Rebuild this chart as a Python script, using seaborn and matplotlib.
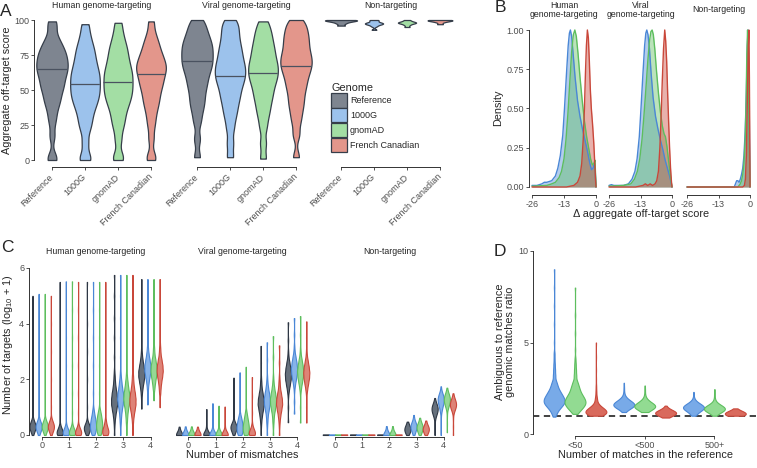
import numpy as np
import pandas as pd
import matplotlib
matplotlib.use("Agg")
import matplotlib.pyplot as plt
from matplotlib.patches import Patch
import seaborn as sns

sns.set_style("ticks")
plt.rcParams["font.family"] = ["Liberation Sans", "DejaVu Sans"]
plt.rcParams["axes.unicode_minus"] = False
plt.rcParams["mathtext.default"] = "regular"

genomes = ["Reference", "1000G", "gnomAD", "French Canadian"]
facet_names = ["Human genome-targeting", "Viral genome-targeting", "Non-targeting"]

# ---------- A: aggregate off-target score (samples)
a_human = [
    [0, 2, 17, 27, 33, 38, 41.5, 44, 47, 50, 52, 53.5, 56, 58, 60, 62, 63, 65, 66.5, 68, 69.5, 71, 73, 74.5, 76, 78, 80, 82, 85, 88, 95, 99],
    [0, 2, 12, 21, 26, 30, 34, 37, 40, 42, 44.5, 46.5, 48.5, 50.5, 52.5, 54.5, 56.5, 58.5, 60.5, 62.5, 64.5, 67, 69.5, 72, 75, 78, 81, 85, 90, 97],
    [0, 3, 14, 22, 27, 31, 35, 38, 41, 43, 45.5, 47.5, 49.5, 51.5, 53.5, 55.5, 57.5, 59.5, 61.5, 63.5, 65.5, 68, 70.5, 73, 76, 79, 82, 86, 91, 98],
    [0, 3, 15, 24, 30, 35, 39, 42, 45, 48, 50.5, 53, 55, 57, 59, 61, 63, 64.5, 66, 67.5, 69, 71, 73, 75, 77, 80, 83, 86, 91, 99],
]
a_viral = [
    [2, 15, 27, 34, 39, 43, 47, 51, 54, 57, 60, 62.5, 65, 67, 69, 71, 73, 75, 77, 79, 81, 83, 85, 87.5, 90, 93, 96.5, 100],
    [2, 12, 22, 29, 34, 38, 42, 45, 48, 51, 53.5, 56, 58, 60, 62, 64, 66, 68, 70, 72.5, 75, 77.5, 80, 83, 86, 89.5, 93, 96.5, 100],
    [1, 12, 23, 30, 35, 39, 43, 46, 49, 52, 54.5, 57, 59, 61, 63, 65, 67, 69, 71, 73.5, 76, 78.5, 81, 84, 87, 90.5, 94, 99],
    [2, 18, 27, 33, 38, 42, 46, 50, 53, 56, 59, 61.5, 64, 66, 68, 70, 72, 74, 76, 78.5, 81, 83.5, 86, 88.5, 91, 94, 97, 100],
]
a_nontarget = [
    [96, 97.5, 98.5, 99, 99.5, 99.8, 100, 100],
    [93, 95.5, 96.5, 97, 97.5, 97.5, 98, 98.5, 99.5, 100],
    [95, 96.5, 97.5, 98, 98, 98.5, 99, 100],
    [97, 98.5, 99.2, 99.6, 99.8, 100, 100],
]
a_medians = [[65, 54, 56, 61.5], [70.5, 60, 62, 67], None]

# ---------- B: scaled density of the change in score
b_human_x = {
    "1000G": [-26, -24, -22, -21, -20, -18, -16.5, -15.5, -14.5, -13.5, -12.8, -12.0, -11.3, -10.8, -10.4, -9.9, -9.3, -8.5, -7.5, -6.5, -5.5, -4.5, -3.5, -2.5, -1.8, -1.2, -0.7, -0.3, 0],
    "gnomAD": [-26, -20, -18, -16.5, -15, -14, -13, -12.2, -11.4, -10.6, -9.9, -9.2, -8.6, -8.0, -7.3, -6.5, -5.6, -4.7, -3.8, -3.0, -2.2, -1.5, -0.9, -0.4, 0],
    "French Canadian": [-26, -12, -9, -7.5, -6.5, -5.8, -5.2, -4.7, -4.3, -3.9, -3.5, -3.1, -2.7, -2.3, -1.9, -1.4, -0.9, -0.5, -0.2, 0],
}
b_human_y = {
    "1000G": [0.01, 0.01, 0.02, 0.03, 0.03, 0.04, 0.07, 0.12, 0.2, 0.33, 0.5, 0.72, 0.9, 0.98, 1.0, 0.96, 0.85, 0.7, 0.55, 0.45, 0.37, 0.3, 0.23, 0.15, 0.11, 0.12, 0.15, 0.1, 0],
    "gnomAD": [0.005, 0.01, 0.02, 0.03, 0.06, 0.1, 0.18, 0.3, 0.47, 0.68, 0.86, 0.97, 1.0, 0.96, 0.85, 0.7, 0.55, 0.42, 0.32, 0.25, 0.18, 0.14, 0.15, 0.17, 0],
    "French Canadian": [0, 0, 0.01, 0.03, 0.07, 0.15, 0.3, 0.5, 0.72, 0.9, 1.0, 0.95, 0.8, 0.62, 0.5, 0.4, 0.28, 0.15, 0.05, 0],
}
b_viral_x = {
    "1000G": [-26, -25, -24, -22, -20, -18, -16.5, -15.3, -14.4, -13.5, -12.8, -12.0, -11.3, -10.8, -10.4, -9.9, -9.3, -8.6, -7.8, -6.8, -5.8, -4.8, -3.8, -2.8, -1.9, -1.0, -0.4, 0],
    "gnomAD": [-26, -20, -17, -15.5, -14.3, -13.3, -12.4, -11.6, -10.8, -10.0, -9.3, -8.7, -8.2, -7.7, -7.1, -6.4, -5.6, -4.8, -4.0, -3.3, -2.7, -2.1, -1.5, -0.9, -0.4, 0],
    "French Canadian": [-26, -15, -12, -11, -10, -9, -8, -7, -6.3, -5.6, -5.0, -4.5, -4.0, -3.5, -3.0, -2.6, -2.2, -1.8, -1.4, -1.0, -0.6, -0.2, 0],
}
b_viral_y = {
    "1000G": [0.01, 0.015, 0.01, 0.01, 0.01, 0.02, 0.05, 0.1, 0.18, 0.32, 0.5, 0.72, 0.9, 0.98, 1.0, 0.97, 0.88, 0.72, 0.57, 0.45, 0.37, 0.3, 0.24, 0.17, 0.12, 0.07, 0.03, 0],
    "gnomAD": [0.005, 0.01, 0.02, 0.05, 0.1, 0.18, 0.3, 0.45, 0.62, 0.8, 0.93, 0.99, 1.0, 0.97, 0.88, 0.74, 0.6, 0.48, 0.39, 0.34, 0.32, 0.26, 0.18, 0.1, 0.04, 0],
    "French Canadian": [0, 0, 0.01, 0.02, 0.01, 0.02, 0.01, 0.02, 0.04, 0.1, 0.25, 0.45, 0.68, 0.88, 1.0, 0.93, 0.8, 0.6, 0.42, 0.25, 0.12, 0.03, 0],
}
b_nontarget_x = {
    "1000G": [-26, -6.5, -6, -5.5, -5, -4.5, -4, -3.5, -3, -2.5, -2, -1.5, -1.1, -0.8, -0.5, -0.2, 0],
    "gnomAD": [-26, -5, -4.5, -4, -3.5, -3, -2.5, -2, -1.6, -1.3, -1.0, -0.7, -0.4, -0.1, 0],
    "French Canadian": [-26, -3, -2.3, -1.9, -1.5, -1.1, -0.7, -0.45, -0.25, -0.1, 0],
}
b_nontarget_y = {
    "1000G": [0, 0, 0.02, 0.04, 0.04, 0.03, 0.05, 0.08, 0.12, 0.2, 0.35, 0.6, 0.9, 1.0, 0.8, 0.3, 0],
    "gnomAD": [0, 0, 0.01, 0.02, 0.04, 0.08, 0.15, 0.3, 0.55, 0.85, 1.0, 0.8, 0.4, 0.1, 0],
    "French Canadian": [0, 0, 0.01, 0.05, 0.2, 0.55, 0.9, 1.0, 0.7, 0.3, 0],
}

# ---------- C: number of targets by mismatches, each violin as (values, counts)
c_human = {
    0: [([0, 0.1, 0.2, 0.3, 0.4, 0.5, 0.6, 1.0, 2.0, 3.0, 4.0, 5.0], [2, 5, 9, 12, 9, 5, 2, 1, 1, 1, 1, 1]),
        ([0, 0.1, 0.2, 0.3, 0.4, 0.5, 0.6, 1.0, 2.0, 3.0, 4.0, 5.07], [2, 5, 9, 12, 9, 5, 2, 1, 1, 1, 1, 1]),
        ([0, 0.1, 0.2, 0.3, 0.4, 0.5, 0.6, 1.0, 2.0, 3.0, 4.0, 5.07], [2, 5, 9, 12, 9, 5, 2, 1, 1, 1, 1, 1]),
        ([0, 0.1, 0.2, 0.3, 0.4, 0.5, 0.6, 1.0, 2.0, 3.0, 4.0, 5.0], [2, 5, 9, 12, 9, 5, 2, 1, 1, 1, 1, 1])],
    1: [([0, 0.1, 0.2, 0.3, 0.4, 0.8, 1.5, 2.5, 3.5, 4.5, 5.5], [10, 12, 7, 3, 1, 1, 1, 1, 1, 1, 1]),
        ([0, 0.1, 0.2, 0.3, 0.4, 0.8, 1.5, 2.5, 3.5, 4.5, 5.52], [10, 12, 7, 3, 1, 1, 1, 1, 1, 1, 1]),
        ([0, 0.1, 0.2, 0.3, 0.4, 0.8, 1.5, 2.5, 3.5, 4.5, 5.52], [10, 12, 7, 3, 1, 1, 1, 1, 1, 1, 1]),
        ([0, 0.1, 0.2, 0.3, 0.4, 0.8, 1.5, 2.5, 3.5, 4.5, 5.5], [10, 12, 7, 3, 1, 1, 1, 1, 1, 1, 1])],
    2: [([0, 0.1, 0.2, 0.3, 0.4, 0.5, 1.0, 2.0, 3.0, 4.0, 5.5], [3, 6, 10, 10, 5, 2, 1, 1, 1, 1, 1]),
        ([0, 0.1, 0.2, 0.3, 0.4, 0.5, 0.6, 0.7, 0.8, 0.9, 1.0, 1.5, 2.5, 3.5, 4.5, 5.5], [4, 6, 8, 9, 8, 7, 6, 4, 3, 2, 1, 1, 1, 1, 1, 1]),
        ([0, 0.1, 0.2, 0.3, 0.4, 0.5, 0.6, 0.7, 0.8, 0.9, 1.0, 1.5, 2.5, 3.5, 4.5, 5.5], [4, 6, 7, 8, 8, 7, 6, 5, 4, 2, 1, 1, 1, 1, 1, 1]),
        ([0, 0.1, 0.2, 0.3, 0.4, 0.5, 0.6, 1.0, 2.0, 3.0, 4.0, 5.5], [8, 10, 8, 5, 3, 2, 1, 1, 1, 1, 1, 1])],
    3: [([0, 0.3, 0.5, 0.7, 0.9, 1.1, 1.3, 1.5, 1.7, 1.9, 2.1, 2.3, 2.8, 3.5, 4.2, 5.0, 5.75], [1, 1, 2, 4, 7, 10, 10, 8, 5, 3, 2, 1, 1, 1, 1, 1, 1]),
        ([0, 0.3, 0.5, 0.7, 0.9, 1.1, 1.3, 1.5, 1.7, 1.9, 2.1, 2.3, 2.8, 3.5, 4.2, 5.0, 5.75], [1, 1, 2, 3, 5, 8, 10, 9, 6, 4, 2, 1, 1, 1, 1, 1, 1]),
        ([0, 0.3, 0.5, 0.7, 0.9, 1.1, 1.3, 1.5, 1.7, 1.9, 2.1, 2.3, 2.8, 3.5, 4.2, 5.0, 5.75], [1, 1, 2, 3, 5, 8, 10, 9, 6, 4, 2, 1, 1, 1, 1, 1, 1]),
        ([0, 0.3, 0.5, 0.7, 0.9, 1.1, 1.3, 1.5, 1.7, 1.9, 2.1, 2.3, 2.8, 3.5, 4.2, 5.0, 5.75], [1, 1, 2, 4, 7, 10, 10, 8, 5, 3, 2, 1, 1, 1, 1, 1, 1])],
    4: [([0.95, 1.3, 1.5, 1.7, 1.9, 2.1, 2.3, 2.5, 2.7, 2.9, 3.1, 3.4, 4.0, 4.8, 5.6], [1, 1, 2, 4, 7, 10, 10, 7, 4, 2, 1, 1, 1, 1, 1]),
        ([1.1, 1.5, 1.7, 1.9, 2.1, 2.3, 2.5, 2.7, 2.9, 3.1, 3.3, 3.6, 4.2, 4.9, 5.6], [1, 1, 2, 4, 7, 10, 10, 7, 4, 2, 1, 1, 1, 1, 1]),
        ([1.25, 1.5, 1.7, 1.9, 2.1, 2.3, 2.5, 2.7, 2.9, 3.1, 3.3, 3.6, 4.2, 4.9, 5.6], [1, 1, 3, 5, 8, 10, 9, 6, 3, 2, 1, 1, 1, 1, 1]),
        ([1.0, 1.5, 1.7, 1.9, 2.1, 2.3, 2.5, 2.7, 2.9, 3.1, 3.3, 3.6, 4.2, 4.9, 5.6], [1, 2, 3, 5, 8, 10, 9, 6, 3, 2, 1, 1, 1, 1, 1])],
}
c_viral = {
    0: [([0, 0.1, 0.2, 0.3], [12, 3, 1, 1]),
        ([0, 0.1, 0.2, 0.31], [12, 3, 1, 1]),
        ([0, 0.1, 0.2, 0.31], [12, 3, 1, 1]),
        ([0, 0.1, 0.2, 0.3], [12, 3, 1, 1])],
    1: [([0, 0.1, 0.2, 0.4, 0.7, 0.93], [12, 4, 1, 1, 1, 1]),
        ([0, 0.1, 0.2, 0.4, 0.7, 1.14], [12, 4, 1, 1, 1, 1]),
        ([0, 0.1, 0.2, 0.4, 0.7, 1.05], [12, 4, 1, 1, 1, 1]),
        ([0, 0.1, 0.2, 0.4, 0.7, 1.02], [12, 4, 1, 1, 1, 1])],
    2: [([0, 0.1, 0.2, 0.3, 0.4, 0.5, 0.9, 1.4, 2.06], [2, 4, 8, 10, 6, 2, 1, 1, 1]),
        ([0, 0.1, 0.2, 0.3, 0.4, 0.5, 0.6, 0.7, 0.8, 1.2, 1.7, 2.25], [5, 6, 7, 7, 6, 5, 4, 2, 1, 1, 1, 1]),
        ([0, 0.1, 0.2, 0.3, 0.4, 0.5, 0.6, 0.7, 0.8, 0.9, 1.3, 1.9, 2.45], [5, 6, 7, 7, 6, 5, 4, 3, 2, 1, 1, 1, 1]),
        ([0, 0.1, 0.2, 0.3, 0.4, 0.8, 1.4, 2.08], [10, 9, 5, 2, 1, 1, 1, 1])],
    3: [([0, 0.3, 0.5, 0.7, 0.9, 1.1, 1.3, 1.5, 1.7, 1.9, 2.1, 2.6, 3.2], [1, 1, 2, 4, 7, 10, 9, 6, 3, 2, 1, 1, 1]),
        ([0, 0.3, 0.5, 0.7, 0.9, 1.1, 1.3, 1.5, 1.7, 1.9, 2.1, 2.7, 3.33], [1, 1, 2, 3, 6, 9, 10, 7, 4, 2, 1, 1, 1]),
        ([0, 0.3, 0.5, 0.7, 0.9, 1.1, 1.3, 1.5, 1.7, 1.9, 2.1, 2.8, 3.55], [1, 1, 2, 3, 6, 9, 10, 7, 4, 2, 1, 1, 1]),
        ([0, 0.3, 0.5, 0.7, 0.9, 1.1, 1.3, 1.5, 1.7, 1.9, 2.1, 2.6, 3.22], [1, 1, 2, 4, 7, 10, 9, 6, 3, 2, 1, 1, 1])],
    4: [([0.46, 1.0, 1.4, 1.6, 1.8, 2.0, 2.2, 2.4, 2.6, 2.8, 3.0, 3.4, 4.05], [1, 1, 1, 3, 6, 9, 10, 8, 5, 2, 1, 1, 1]),
        ([0.77, 1.2, 1.6, 1.8, 2.0, 2.2, 2.4, 2.6, 2.8, 3.0, 3.2, 3.6, 4.2], [1, 1, 1, 3, 6, 9, 10, 8, 5, 2, 1, 1, 1]),
        ([0.45, 1.0, 1.5, 1.7, 1.9, 2.1, 2.3, 2.5, 2.7, 2.9, 3.1, 3.6, 4.27], [1, 1, 1, 3, 6, 9, 10, 8, 5, 2, 1, 1, 1]),
        ([0.45, 1.0, 1.45, 1.65, 1.85, 2.05, 2.25, 2.45, 2.65, 2.85, 3.05, 3.5, 4.08], [1, 1, 1, 3, 6, 9, 10, 8, 5, 2, 1, 1, 1])],
}
c_nontarget = {
    0: [([0, 0.02], [10, 1]), ([0, 0.02], [10, 1]), ([0, 0.02], [10, 1]), ([0, 0.02], [10, 1])],
    1: [([0, 0.02], [10, 1]), ([0, 0.02], [10, 1]), ([0, 0.02], [10, 1]), ([0, 0.02], [10, 1])],
    2: [([0, 0.02], [10, 1]),
        ([0, 0.1, 0.2, 0.32], [12, 2, 1, 1]),
        ([0, 0.1, 0.2, 0.32], [12, 2, 1, 1]),
        ([0, 0.02], [10, 1])],
    3: [([0, 0.1, 0.2, 0.3, 0.4, 0.48], [2, 5, 8, 5, 2, 1]),
        ([0, 0.1, 0.2, 0.3, 0.4, 0.5, 0.6, 0.72], [2, 3, 6, 8, 6, 3, 1, 1]),
        ([0, 0.1, 0.2, 0.3, 0.4, 0.5, 0.62], [2, 4, 7, 8, 5, 2, 1]),
        ([0, 0.1, 0.2, 0.3, 0.4, 0.52], [2, 5, 8, 6, 2, 1])],
    4: [([0, 0.2, 0.4, 0.6, 0.7, 0.8, 0.9, 1.0, 1.1, 1.2, 1.33], [1, 1, 1, 2, 4, 7, 9, 9, 6, 3, 1]),
        ([0, 0.3, 0.6, 0.8, 0.9, 1.0, 1.1, 1.2, 1.3, 1.4, 1.5, 1.6, 1.75], [1, 1, 1, 2, 3, 5, 7, 9, 10, 8, 5, 2, 1]),
        ([0.1, 0.4, 0.7, 0.9, 1.0, 1.1, 1.2, 1.3, 1.4, 1.5, 1.6, 1.7], [1, 1, 1, 2, 4, 7, 9, 10, 8, 5, 2, 1]),
        ([0, 0.3, 0.6, 0.8, 0.9, 1.0, 1.1, 1.2, 1.3, 1.4, 1.5], [1, 1, 1, 2, 5, 8, 10, 8, 5, 2, 1])],
}

# ---------- D: ambiguous / reference matches ratio (1000G, gnomAD, French Canadian)
d_bins = ["<50", "<500", "500+"]
d_samples = {
    "<50": [([0.95, 1.1, 1.3, 1.5, 1.7, 1.9, 2.1, 2.3, 2.5, 2.7, 2.9, 3.2, 3.5, 3.8, 4.1, 4.4, 5.0, 6.0, 7.0, 8.0, 9.0],
             [3, 6, 12, 21, 30, 30, 24, 18, 12, 9, 6, 5, 4, 3, 2, 2, 1, 1, 1, 1, 1]),
            ([1.1, 1.3, 1.5, 1.7, 1.9, 2.1, 2.3, 2.5, 2.7, 2.9, 3.2, 3.5, 3.8, 4.1, 4.6, 5.5, 6.5, 8.0],
             [6, 15, 24, 30, 27, 21, 15, 12, 9, 6, 5, 4, 3, 2, 1, 1, 1, 1]),
            ([1.0, 1.1, 1.2, 1.3, 1.4, 1.5, 1.6, 1.8, 2.0, 2.3, 2.6, 3.0, 3.5, 4.2, 5.0],
             [18, 27, 30, 27, 18, 12, 9, 6, 5, 3, 2, 1, 1, 1, 1])],
    "<500": [([1.2, 1.3, 1.4, 1.5, 1.6, 1.7, 1.8, 1.9, 2.0, 2.2, 2.5, 2.8], [3, 6, 15, 24, 30, 24, 15, 9, 6, 3, 2, 1]),
             ([1.2, 1.3, 1.4, 1.5, 1.6, 1.7, 1.8, 1.9, 2.1, 2.4, 2.65], [6, 12, 21, 30, 24, 15, 9, 6, 3, 2, 1]),
             ([0.9, 1.0, 1.1, 1.2, 1.3, 1.4, 1.55], [1, 9, 27, 24, 9, 3, 1])],
    "500+": [([1.0, 1.1, 1.2, 1.3, 1.4, 1.5, 1.6, 1.7, 1.8, 2.0, 2.3], [6, 6, 9, 18, 27, 27, 18, 9, 6, 2, 1]),
             ([1.0, 1.1, 1.2, 1.3, 1.4, 1.5, 1.6, 1.7, 1.9, 2.2, 2.45], [3, 6, 15, 27, 30, 21, 12, 6, 3, 2, 1]),
             ([1.0, 1.05, 1.1, 1.15, 1.2, 1.3, 1.4], [9, 18, 27, 21, 12, 6, 1])],
}

# ---------- colours
outline = "#363E4A"
a_fill = ["#7E8590", "#9CC2EC", "#A3DEA4", "#E3968B"]
line_cols = ["#2E3744", "#4A87D6", "#5DBE5E", "#C9473A"]
c_fill = ["#66707C", "#86B3EA", "#95D895", "#DE8377"]
d_fill = ["#78AAE8", "#92DB92", "#D96A5D"]
axis_col = "#333333"
tick_txt = "#4D4D4D"

W, H = 757, 468
fig = plt.figure(figsize=(W / 100, H / 100), dpi=100)


def add_ax(x0, y0, x1, y1):
    return fig.add_axes([x0 / W, 1 - y1 / H, (x1 - x0) / W, (y1 - y0) / H])


def label(x, y, s, **kw):
    kw.setdefault("ha", "center")
    kw.setdefault("va", "center")
    fig.text(x / W, 1 - y / H, s, **kw)


def fixed_bw(h):
    # absolute kernel width, whatever the spread of the samples
    return lambda kde: h / max(np.std(kde.dataset, ddof=1), 1e-6)


def style(ax, show_left):
    sns.despine(ax=ax, left=not show_left)
    for s in ("left", "bottom"):
        ax.spines[s].set_linewidth(0.7)
        ax.spines[s].set_color(axis_col)
    ax.tick_params(length=2.2, width=0.6, color=axis_col, labelsize=6.5,
                   labelcolor=tick_txt, pad=1.2)
    if not show_left:
        ax.tick_params(left=False, labelleft=False)
    ax.set_xlabel("")
    ax.set_ylabel("")


def recolor(ax, fills, lines):
    fills_rgb = np.array([matplotlib.colors.to_rgb(c) for c in fills])
    for coll in ax.collections:
        fc = coll.get_facecolor()
        if len(fc) == 0:
            continue
        idx = np.argmin(((fills_rgb - fc[0][:3]) ** 2).sum(axis=1))
        coll.set_edgecolor(lines[idx])


def long_form(table, levels, xname, yname):
    rows = []
    for key, groups in table.items():
        for g, (vals, counts) in zip(levels, groups):
            for v, c in zip(vals, counts):
                rows += [(key, g, v)] * c
    return pd.DataFrame(rows, columns=[xname, "genome", yname])


# ================= panel A
a_sets = [a_human, a_viral, a_nontarget]
a_widths = [[0.95, 0.9, 0.88, 0.9], [0.95, 0.92, 0.9, 0.95], [0.97, 0.55, 0.55, 0.75]]
a_tick0 = [52, 197, 341]
a_step = 33
for k in range(3):
    x0 = 34 if k == 0 else a_tick0[k] - 0.6 * a_step
    x1 = a_tick0[k] + 3.6 * a_step
    ax = add_ax(x0, 13, x1, 167)
    for i, g in enumerate(genomes):
        df = pd.DataFrame({"genome": g, "score": a_sets[k][i]})
        sns.violinplot(data=df, x="genome", y="score", order=genomes, color=a_fill[i],
                       linecolor=outline, linewidth=0.9, inner=None, cut=0,
                       width=a_widths[k][i], bw_method=fixed_bw(4.5 if k < 2 else 0.6),
                       gridsize=250, saturation=1, ax=ax)
        body = ax.collections[-1]
        if a_medians[k] is not None:
            med = ax.hlines(a_medians[k][i], i - 0.5, i + 0.5, color="#4A5260", lw=0.9)
            med.set_clip_path(body.get_paths()[0], body.get_transform())
    ax.set_xlim((x0 - a_tick0[k]) / a_step, 3.6)
    ax.set_ylim(-5, 105)
    ax.set_yticks([0, 25, 50, 75, 100])
    style(ax, k == 0)
    ax.spines["left"].set_bounds(0, 100)
    ax.spines["bottom"].set_bounds(0, 3)
    ax.set_xticks(range(4))
    ax.set_xticklabels(genomes, rotation=45, ha="right", va="center",
                       rotation_mode="anchor")
    ax.tick_params(axis="x", pad=4)
    label(a_tick0[k] + 1.5 * a_step, 5, facet_names[k], fontsize=6.3)

handles = [Patch(facecolor=c, edgecolor=outline, linewidth=0.9) for c in a_fill]
fig.legend(handles, genomes, title="Genome", loc="upper left",
           bbox_to_anchor=(331 / W, 1 - 83 / H), frameon=False, fontsize=6.5,
           title_fontsize=7.8, handlelength=1.8, handleheight=2.05,
           handletextpad=0.3, labelspacing=0.05, borderpad=0, borderaxespad=0,
           alignment="left")
label(7, 90, "Aggregate off-target score", rotation=90, fontsize=7.8)
label(6, 11, "A", fontsize=12.5)

# ================= panel B
b_x = [b_human_x, b_viral_x, b_nontarget_x]
b_y = [b_human_y, b_viral_y, b_nontarget_y]
b_p26 = [532, 609, 687]
b_p0 = [596, 672, 750]
b_titles = ["Human\ngenome-targeting", "Viral\ngenome-targeting", "Non-targeting"]
for k in range(3):
    s = (b_p0[k] - b_p26[k]) / 26
    ax = add_ax(b_p26[k] - 1.3 * s, 22.15, b_p0[k] + 1.3 * s, 194.85)
    for g, col in zip(genomes[1:], line_cols[1:]):
        xs, ys = b_x[k][g], b_y[k][g]
        ax.fill_between(xs, ys, color=col, alpha=0.42, lw=0)
        sns.lineplot(x=xs, y=ys, color=col, lw=1.0, sort=False, ax=ax)
    ax.set_xlim(-27.3, 1.3)
    ax.set_ylim(-0.05, 1.05)
    ax.set_xticks([-26, -13, 0])
    ax.set_xticklabels(["-26", "-13", "0"])
    ax.set_yticks([0, 0.25, 0.5, 0.75, 1.0])
    ax.set_yticklabels(["0.00", "0.25", "0.50", "0.75", "1.00"])
    style(ax, k == 0)
    ax.spines["left"].set_bounds(0, 1)
    ax.spines["bottom"].set_bounds(-26, 0)
    label((b_p26[k] + b_p0[k]) / 2, 10, b_titles[k], fontsize=6.3, linespacing=1.1)
label(498, 108, "Density", rotation=90, fontsize=7.8)
label(641, 214, "\u0394 aggregate off-target score", fontsize=7.8)
label(500, 8, "B", fontsize=12.5)

# ================= panel C
c_sets = [c_human, c_viral, c_nontarget]
c_tick0 = [41.7, 188.3, 335]
c_step = 27.2
c_unit = 27.83
for k in range(3):
    df = long_form(c_sets[k], genomes, "mm", "n")
    x0 = 29 if k == 0 else c_tick0[k] - 0.6 * c_step
    x1 = c_tick0[k] + 4.6 * c_step
    ax = add_ax(x0, 259.65, x1, 436.5)
    sns.violinplot(data=df, x="mm", y="n", hue="genome", hue_order=genomes,
                   palette=c_fill, density_norm="width", cut=0, inner=None,
                   width=0.9, gap=0, linewidth=0.8, bw_method=fixed_bw(0.1),
                   gridsize=400, saturation=1, legend=False, ax=ax)
    recolor(ax, c_fill, line_cols)
    ax.set_xlim((x0 - c_tick0[k]) / c_step, 4.6)
    ax.set_ylim(-1.5 / c_unit, 6.3)
    ax.set_yticks([0, 2, 4, 6])
    style(ax, k == 0)
    ax.spines["left"].set_bounds(0, 6)
    ax.spines["bottom"].set_bounds(0, 4)
    label(c_tick0[k] + 2 * c_step, 251, facet_names[k], fontsize=6.3)
label(8, 345, r"Number of targets ($\mathregular{log_{10}}$ + 1)", rotation=90, fontsize=7.8)
label(242, 455, "Number of mismatches", fontsize=7.8)
label(7.5, 247, "C", fontsize=12.5)

# ================= panel D
df = long_form(d_samples, genomes[1:], "bin", "ratio")
ax = add_ax(533.2, 241.85, 756.2, 436)
sns.violinplot(data=df, x="bin", y="ratio", order=d_bins, hue="genome",
               hue_order=genomes[1:], palette=d_fill, density_norm="width", cut=0,
               inner=None, width=0.9, gap=0, linewidth=0.8, bw_method=fixed_bw(0.14),
               gridsize=400, saturation=1, legend=False, ax=ax)
recolor(ax, d_fill, line_cols[1:])
ax.axhline(1, color="#333333", lw=1.3, ls=(0, (3.5, 2.5)), zorder=0)
ax.set_xlim(-0.6, 2.6)
ax.set_ylim(-2 / 18.3, 10.5)
ax.set_yticks([0, 5, 10])
style(ax, True)
ax.spines["left"].set_bounds(0, 10)
ax.spines["bottom"].set_bounds(0, 2)
label(505, 342, "Ambiguous to reference\ngenomic matches ratio", rotation=90,
      fontsize=7.8, linespacing=1.0)
label(645, 455, "Number of matches in the reference", fontsize=7.8)
label(500, 251, "D", fontsize=12.5)

fig.savefig("out.png", dpi=100)
